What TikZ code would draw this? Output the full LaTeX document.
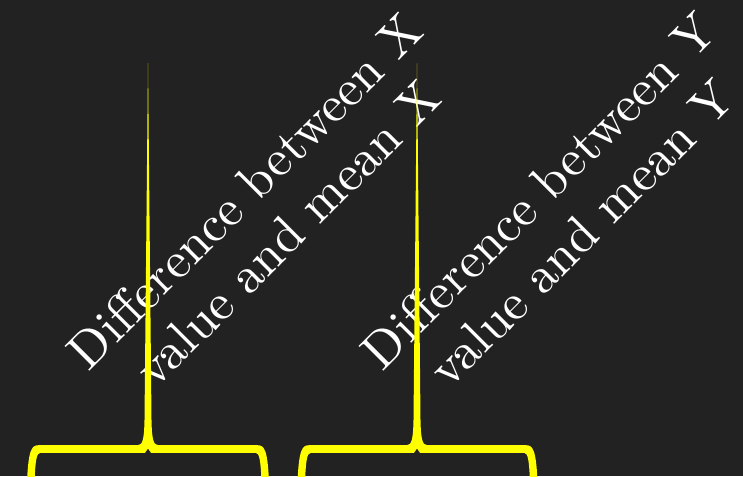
\documentclass[tikz,border=0pt]{standalone}
\usepackage{fontspec}
\setmainfont{lmroman10-regular}[Extension=.otf]
\usepackage{tikz}
\usetikzlibrary{positioning, calc}
\definecolor{devBack}{HTML}{222222}
\definecolor{devYellow}{HTML}{FFFF00}
\definecolor{devWhite}{HTML}{FFFFFF}

\begin{document}
\begin{tikzpicture}[
    x=0.75pt, y=-0.75pt,
    difflabel/.style={rotate=45, align=center, text=devWhite, inner sep=0pt,
        font=\fontsize{38.5}{45}\selectfont},
    bracefill/.style={fill=devYellow, draw=none}
]

% Background
\fill[devBack] (0,0) rectangle (743,476);
\useasboundingbox (0,0) rectangle (743,476);

% ============================
% Labels (rotated)
% ============================
\node[difflabel] (diffx) at (266,212) {Difference between X\\value and mean X};
\node[difflabel] (diffy) at (560,212) {Difference between Y\\value and mean Y};

% ============================
% Braces with long spikes
% ============================
% \cx = spike, \lx / \rx = outer legs (cut off at the bottom)
\foreach \cx/\lx/\rx in {148/31.5/264.5, 417/302/533} {
    \fill[bracefill]
        (\cx, 63) -- ({\cx+3.5}, 420)
        .. controls ({\cx+3.9}, 440) and ({\cx+5.5}, 445.2) .. ({\cx+10.5}, 445.2)
        -- ({\rx-7}, 445.2)
        .. controls ({\rx}, 445.2) and ({\rx+3}, 450) .. ({\rx+4.5}, 481)
        -- ({\rx-3}, 481)
        .. controls ({\rx-4}, 460) and ({\rx-5}, 452.8) .. ({\rx-9}, 452.8)
        -- ({\cx+3}, 452.8) -- (\cx, 448.5) -- ({\cx-3}, 452.8)
        -- ({\lx+9}, 452.8)
        .. controls ({\lx+5}, 452.8) and ({\lx+4}, 460) .. ({\lx+3}, 481)
        -- ({\lx-4.5}, 481)
        .. controls ({\lx-3}, 450) and ({\lx}, 445.2) .. ({\lx+7}, 445.2)
        -- ({\cx-10.5}, 445.2)
        .. controls ({\cx-5.5}, 445.2) and ({\cx-3.9}, 440) .. ({\cx-3.5}, 420)
        -- cycle;
}

\end{tikzpicture}
\end{document}
